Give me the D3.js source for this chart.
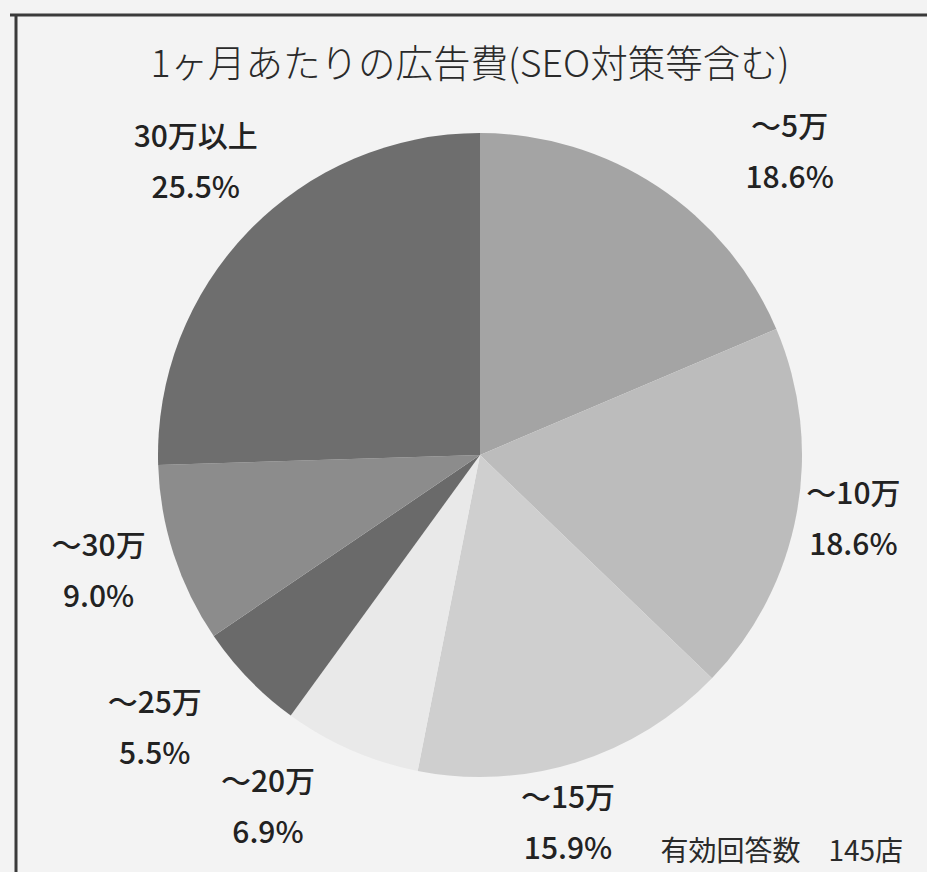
<!DOCTYPE html>
<html>
<head>
<meta charset="utf-8">
<script src="https://cdn.jsdelivr.net/npm/d3@7"></script>
<style>
  html, body { margin: 0; padding: 0; background: #f3f3f3; }
  svg { display: block; }
</style>
</head>
<body>
<svg id="chart"></svg>
<script>
// Data
const categories = ["～5万", "～10万", "～15万", "～20万", "～25万", "～30万", "30万以上"];
const shares = [18.6, 18.6, 15.9, 6.9, 5.5, 9.0, 25.5];
const percentLabels = ["18.6%", "18.6%", "15.9%", "6.9%", "5.5%", "9.0%", "25.5%"];
const title = "1ヶ月あたりの広告費(SEO対策等含む)";
const note = "有効回答数　145店";

// Layout / style
const width = 927, height = 872;
const cx = 480, cy = 455, radius = 322, labelRadius = 400;
const sliceColors = ["#a4a4a4", "#bcbcbc", "#cfcfcf", "#e9e9e9", "#6a6a6a", "#8c8c8c", "#6e6e6e"];
// Excel's "best fit" label placement, as offsets from the label arc
const labelNudge = [[89, 27], [-20, -12], [-32, -18], [-52, -19], [-38, -9], [-1, -12], [3, -19]];

const svg = d3.select("#chart")
    .attr("width", width)
    .attr("height", height);

// frame lines of the scanned page
svg.append("line")
    .attr("x1", 10).attr("x2", width)
    .attr("y1", 15).attr("y2", 15)
    .attr("stroke", "#3a3a3a").attr("stroke-width", 3);
svg.append("line")
    .attr("x1", 16).attr("x2", 16)
    .attr("y1", 15).attr("y2", height)
    .attr("stroke", "#3a3a3a").attr("stroke-width", 3);

// title
svg.append("text")
    .attr("x", 470)
    .attr("y", 77)
    .attr("text-anchor", "middle")
    .style("font-family", "'Noto Sans CJK JP', 'Noto Sans', sans-serif")
    .style("font-size", "37.5px")
    .style("font-weight", 300)
    .attr("fill", "#2a2a2a")
    .text(title);

const data = categories.map((c, i) => ({ name: c, value: shares[i], pct: percentLabels[i] }));

const pie = d3.pie()
    .value(d => d.value)
    .sort(null)
    .startAngle(0)
    .endAngle(2 * Math.PI);

const arc = d3.arc().innerRadius(0).outerRadius(radius);
const labelArc = d3.arc().innerRadius(labelRadius).outerRadius(labelRadius);

const g = svg.append("g")
    .attr("transform", "translate(" + cx + "," + cy + ")");

const arcs = pie(data);

g.selectAll("path")
    .data(arcs)
    .enter()
    .append("path")
    .attr("d", arc)
    .attr("fill", (d, i) => sliceColors[i])
    .attr("stroke", "none");

// labels: category on first line, percentage below
const labels = g.selectAll("g.label")
    .data(arcs)
    .enter()
    .append("g")
    .attr("class", "label")
    .attr("transform", (d, i) => {
        const c = labelArc.centroid(d);
        return "translate(" + (c[0] + labelNudge[i][0]) + "," + (c[1] + labelNudge[i][1]) + ")";
    })
    .style("font-family", "'Noto Sans CJK JP', 'Noto Sans', sans-serif")
    .style("font-size", "30px")
    .style("font-weight", 500)
    .attr("fill", "#222")
    .attr("text-anchor", "middle");

labels.append("text")
    .attr("y", -11)
    .text(d => d.data.name);

labels.append("text")
    .attr("y", 40)
    .text(d => d.data.pct);

// respondent count
svg.append("text")
    .attr("x", 903)
    .attr("y", 861)
    .attr("text-anchor", "end")
    .style("font-family", "'Noto Sans CJK JP', 'Noto Sans', sans-serif")
    .style("font-size", "28px")
    .style("font-weight", 400)
    .attr("fill", "#2a2a2a")
    .text(note);
</script>
</body>
</html>
